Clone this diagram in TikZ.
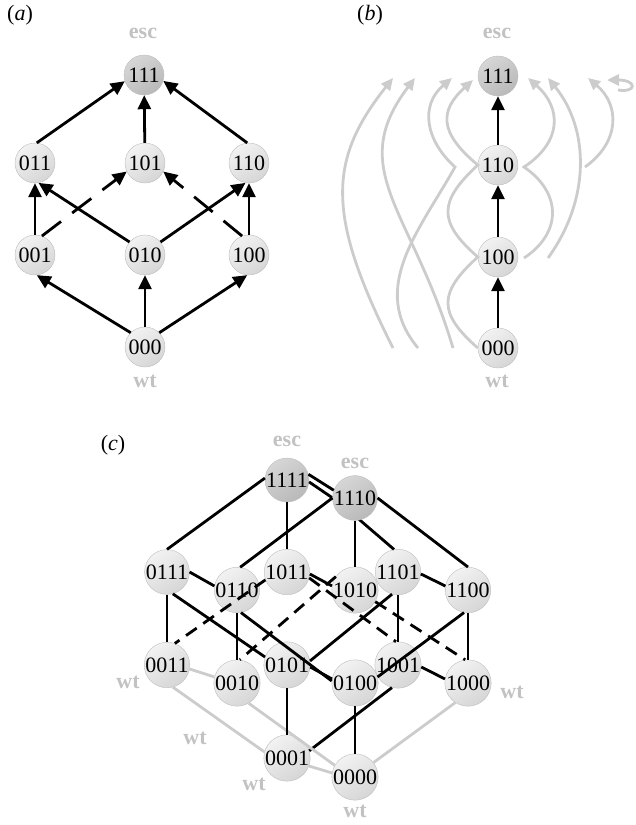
\documentclass[tikz,border=0pt]{standalone}
\usepackage{fontspec}
\setmainfont{Liberation Serif}
\usepackage{xcolor}
\usepackage{tikz}
\usetikzlibrary{positioning, arrows.meta}
\definecolor{statetop}{HTML}{F2F2F2}
\definecolor{statebot}{HTML}{D6D6D6}
\definecolor{esctop}{HTML}{D6D6D6}
\definecolor{escbot}{HTML}{B9B9B9}
\definecolor{rimgray}{HTML}{BDBDBD}
\definecolor{tagtext}{HTML}{C2C2C2}
\definecolor{pathgray}{HTML}{CCCCCC}

\tikzset{
  state/.style={circle, minimum size=40pt, inner sep=0pt,
    top color=statetop, bottom color=statebot, shading angle=35,
    draw=rimgray, line width=0.4pt, font=\fontsize{22}{22}\selectfont},
  escstate/.style={state, top color=esctop, bottom color=escbot, shading angle=35},
  bigstate/.style={state, minimum size=43pt},
  bigesc/.style={escstate, minimum size=43pt},
  tag/.style={text=tagtext, font=\fontsize{22}{22}\selectfont\bfseries},
  panel/.style={font=\fontsize{22}{22}\selectfont},
  mutation/.style={line width=2.8pt, -{Triangle[length=14pt, width=13pt]}},
  hidden/.style={dash pattern=on 24pt off 14pt},
  route/.style={draw=pathgray, line width=2.8pt, -{Triangle[length=12pt, width=11pt]}},
  link/.style={line width=2.8pt},
  backlink/.style={link, dash pattern=on 13pt off 8pt},
  wtlink/.style={link, draw=pathgray}
}

\begin{document}
\begin{tikzpicture}[x=1pt, y=-1pt]
  \useasboundingbox (0,0) rectangle (635,825);

  % (a)
  \node[panel] (labA) at (20,15) {(\textit{a})};
  \node[tag] (escA) at (143,33) {esc};
  \node[escstate] (a111) at (144,75) {111};
  \node[state] (a011) at (35,163) {011};
  \node[state] (a101) at (145,163) {101};
  \node[state] (a110) at (249,163) {110};
  \node[state] (a001) at (35,255) {001};
  \node[state] (a010) at (145,255) {010};
  \node[state] (a100) at (249,255) {100};
  \node[state] (a000) at (145,347) {000};
  \node[tag] (wtA) at (145,381) {wt};

  \draw[mutation] (a000.135) -- (a001.-85);
  \draw[mutation] (a000) -- (a010);
  \draw[mutation] (a000.45) -- (a100.-95);
  \draw[mutation] (a001) -- (a011);
  \draw[mutation] (a010.140) -- (a011.-80);
  \draw[mutation] (a010.40) -- (a110.-100);
  \draw[mutation] (a100) -- (a110);
  \draw[mutation, hidden] (a001.70) -- (a101.205);
  \draw[mutation, hidden] (a100.110) -- (a101.-25);
  \draw[mutation] (a011.85) -- (a111.198);
  \draw[mutation] (a101) -- (a111);
  \draw[mutation] (a110.95) -- (a111.-17);

  % (b)
  \node[panel] (labB) at (370,15) {(\textit{b})};
  \node[tag] (escB) at (497,33) {esc};
  \node[escstate] (b111) at (498,76) {111};
  \node[state] (b110) at (498,165) {110};
  \node[state] (b100) at (498,257) {100};
  \node[state] (b000) at (498,348) {000};
  \node[tag] (wtB) at (497,381) {wt};

  \draw[mutation] (b000) -- (b100);
  \draw[mutation] (b100) -- (b110);
  \draw[mutation] (b110) -- (b111);

  \coordinate (p1s) at (393,348);
  \coordinate (p1e) at (393,78);
  \coordinate (p2s) at (453,348);
  \coordinate (p2e) at (415,78);
  \coordinate (p3s) at (418,348);
  \coordinate (p3m) at (455,167);
  \coordinate (p3e) at (452,78);
  \coordinate (p4e) at (473,80);
  \coordinate (q1s) at (524,258);
  \coordinate (q1m) at (524,167);
  \coordinate (q1e) at (528,78);
  \coordinate (q2s) at (548,258);
  \coordinate (q2e) at (548,78);
  \coordinate (q3s) at (585,167);
  \coordinate (q3e) at (588,78);
  \coordinate (q4s) at (618,90);
  \coordinate (q4e) at (607,80);

  \draw[route] (p1s) .. controls (326,215) and (328,160) .. (p1e);
  \draw[route] (p2s) .. controls (412,210) and (345,170) .. (p2e);
  \draw[route] (p3s) .. controls (368,288) and (420,230) .. (p3m)
    .. controls (425,140) and (420,105) .. (p3e);
  \draw[route] (b000.west) .. controls (438,313) and (438,293) .. (b100.west)
    .. controls (438,222) and (438,202) .. (b110.west)
    .. controls (438,132) and (440,110) .. (p4e);
  \draw[route] (q1s) .. controls (562,233) and (562,193) .. (q1m)
    .. controls (562,142) and (562,108) .. (q1e);
  \draw[route] (q2s) .. controls (590,200) and (590,130) .. (q2e);
  \draw[route] (q3s) .. controls (620,142) and (620,105) .. (q3e);
  \draw[route] (q4s) .. controls (637,93) and (637,80) .. (q4e);

  % (c)
  \node[panel] (labC) at (113,445) {(\textit{c})};
  \node[tag] (escC1) at (287,441) {esc};
  \node[tag] (escC2) at (355,463) {esc};
  \node[tag] (wtC1) at (128,682) {wt};
  \node[tag] (wtC2) at (512,692) {wt};
  \node[tag] (wtC3) at (195,738) {wt};
  \node[tag] (wtC4) at (254,784) {wt};
  \node[tag] (wtC5) at (355,811) {wt};

  \node[bigesc] (c1111) at (287,480) {1111};
  \node[bigstate] (c0111) at (167,572) {0111};
  \node[bigstate] (c1011) at (287,572) {1011};
  \node[bigstate] (c1101) at (398,572) {1101};
  \node[bigstate] (c0011) at (167,665) {0011};
  \node[bigstate] (c0101) at (287,665) {0101};
  \node[bigstate] (c1001) at (398,665) {1001};
  \node[bigstate] (c0001) at (287,758) {0001};

  \coordinate (bend) at (340,503);
  \draw[link] (c1111.-5) -- (bend) -- (c1101.100);
  \draw[link] (c1001.-105) -- (c0001.18);

  \node[bigesc] (c1110) at (355,498) {1110};
  \node[bigstate] (c0110) at (237,590) {0110};
  \node[bigstate] (c1010) at (355,590) {1010};
  \node[bigstate] (c1100) at (468,590) {1100};
  \node[bigstate] (c0010) at (237,683) {0010};
  \node[bigstate] (c0100) at (355,683) {0100};
  \node[bigstate] (c1000) at (468,683) {1000};
  \node[bigstate] (c0000) at (355,777) {0000};

  \draw[wtlink] (c0011.-10) -- (c0010.165);
  \draw[wtlink] (c0011.-75) -- (c0001.165);
  \draw[wtlink] (c0010.-60) -- (c0000.150);
  \draw[wtlink] (c0001.-20) -- (c0000.170);
  \draw[wtlink] (c1000.-123) -- (c0000.38);

  \draw[link] (c1111.175) -- (c0111.north);
  \draw[link] (c1111) -- (c1011);
  \draw[link] (c1111.15) -- (c1110.160);
  \draw[link] (c0111) -- (c0011);
  \draw[link] (c0111.-75) -- (c0101.160);
  \draw[link] (c0111.east) -- (c0110.170);
  \draw[link] (c1011.-5) -- (c1010.170);
  \draw[link] (c1101.-5) -- (c1100.170);
  \draw[link] (c1101.-105) -- (c0101.10);
  \draw[link] (c1101) -- (c1001);
  \draw[link] (c0101) -- (c0001);
  \draw[link] (c0101.-5) -- (c0100.170);
  \draw[link] (c1001.-5) -- (c1000.170);
  \draw[backlink] (c1011.200) -- (c0011.70);
  \draw[backlink] (c1011.-15) -- (c1001.95);

  \draw[link] (c1110.west) -- (c0110.82);
  \draw[link] (c1110) -- (c1010);
  \draw[link] (c1110.east) -- (c1100.north);
  \draw[link] (c0110) -- (c0010);
  \draw[link] (c0110.-80) -- (c0100.175);
  \draw[link] (c1100.-100) -- (c0100.15);
  \draw[link] (c1100) -- (c1000);
  \draw[link] (c0100) -- (c0000);
  \draw[backlink] (c1010.145) -- (c0010.83);
  \draw[backlink] (c1010.-30) -- (c1000.97);
\end{tikzpicture}
\end{document}
